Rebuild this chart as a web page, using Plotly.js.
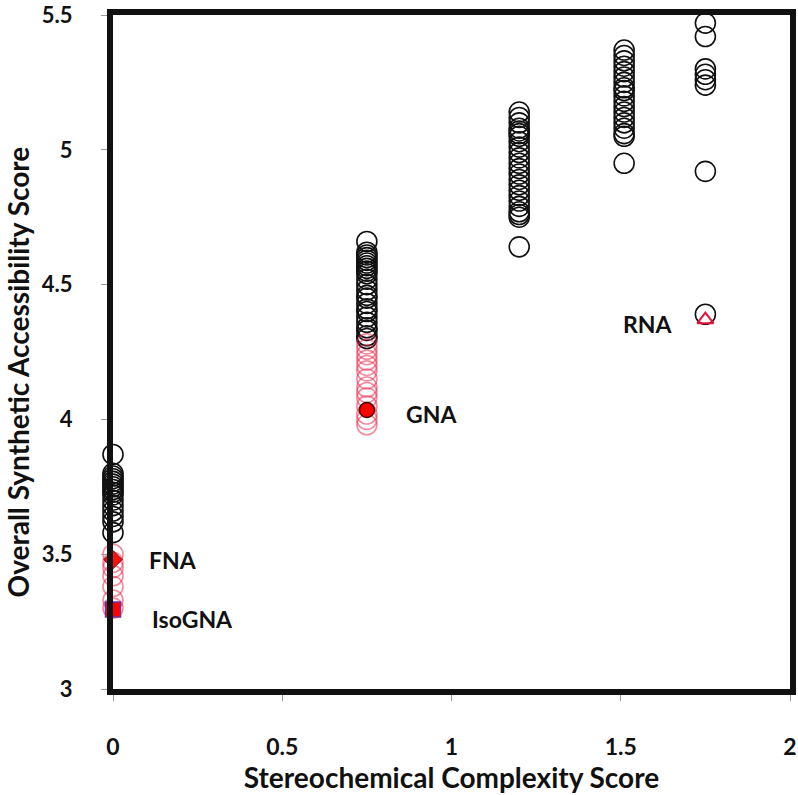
<!DOCTYPE html>
<html>
<head>
<meta charset="utf-8">
<script src="https://cdn.plot.ly/plotly-3.0.1.min.js"></script>
<style>html,body{margin:0;padding:0;background:#fff;}#chart{width:798px;height:795px;}</style>
</head>
<body>
<div id="chart"></div>
<script>
// x = 0 column
const x0Black = [3.87, 3.80, 3.79, 3.78, 3.77, 3.76, 3.75, 3.74, 3.73, 3.72, 3.70, 3.68, 3.66, 3.64, 3.62, 3.58];
const x0Red = [3.50, 3.47, 3.45, 3.42, 3.38, 3.33, 3.30];
// x = 0.75 column
const x075Black = [4.66, 4.62, 4.61, 4.60, 4.59, 4.58, 4.57, 4.56, 4.55, 4.54, 4.52, 4.50, 4.48, 4.46, 4.45, 4.43, 4.41, 4.40, 4.38, 4.36, 4.34, 4.33, 4.31, 4.30];
const x075Red = [4.28, 4.26, 4.24, 4.22, 4.20, 4.18, 4.15, 4.12, 4.10, 4.08, 4.05, 4.02, 4.00, 3.98];
// x = 1.2 column
const x12Black = [5.14, 5.12, 5.10, 5.08, 5.07, 5.06, 5.05, 5.03, 5.01, 4.99, 4.97, 4.95, 4.93, 4.91, 4.89, 4.87, 4.85, 4.83, 4.81, 4.79, 4.77, 4.76, 4.75, 4.64];
// x = 1.51 column
const x151Black = [5.37, 5.35, 5.33, 5.31, 5.29, 5.27, 5.25, 5.23, 5.22, 5.20, 5.18, 5.16, 5.14, 5.12, 5.10, 5.08, 5.06, 5.05, 4.95];
// x = 1.75 column
const x175Black = [5.47, 5.42, 5.30, 5.28, 5.26, 5.24, 4.92, 4.39];

const columnX = [0, 0.75, 1.2, 1.51, 1.75];

// highlighted compounds
const namedLabels = ['FNA', 'IsoGNA', 'GNA', 'RNA'];
const namedX = [0, 0, 0.75, 1.75];
const namedY = [3.48, 3.295, 4.035, 4.37];

const xTicks = [0, 0.5, 1, 1.5, 2];
const yTicks = [3, 3.5, 4, 4.5, 5, 5.5];

const FONT = 'Lato, "Open Sans", sans-serif';
const RED_OPEN = 'rgba(235,45,80,0.55)';

function col(xv, ys) { return ys.map(() => xv); }

const blackCircle = {symbol: 'circle-open', size: 20, color: '#111', line: {width: 1.6, color: '#111'}};
const redCircle = {symbol: 'circle-open', size: 20, color: RED_OPEN, line: {width: 1.6, color: RED_OPEN}};

const traces = [
  {x: col(columnX[0], x0Black), y: x0Black, mode: 'markers', marker: blackCircle, cliponaxis: false},
  {x: col(columnX[1], x075Black), y: x075Black, mode: 'markers', marker: blackCircle, cliponaxis: false},
  {x: col(columnX[2], x12Black), y: x12Black, mode: 'markers', marker: blackCircle, cliponaxis: false},
  {x: col(columnX[3], x151Black), y: x151Black, mode: 'markers', marker: blackCircle, cliponaxis: false},
  {x: col(columnX[4], x175Black), y: x175Black, mode: 'markers', marker: blackCircle, cliponaxis: false},
  {x: col(columnX[0], x0Red), y: x0Red, mode: 'markers', marker: redCircle, cliponaxis: false},
  {x: col(columnX[1], x075Red), y: x075Red, mode: 'markers', marker: redCircle, cliponaxis: false},
  // FNA diamond
  {x: [namedX[0]], y: [namedY[0]], mode: 'markers', cliponaxis: false,
   marker: {symbol: 'diamond', size: 14, color: '#ff1010', line: {width: 1, color: '#700'}}},
  // IsoGNA square
  {x: [namedX[1]], y: [namedY[1]], mode: 'markers', cliponaxis: false,
   marker: {symbol: 'square', size: 15, color: '#ff0000', line: {width: 1.5, color: '#7030a0'}}},
  // GNA filled circle
  {x: [namedX[2]], y: [namedY[2]], mode: 'markers', cliponaxis: false,
   marker: {symbol: 'circle', size: 15, color: '#ff0000', line: {width: 1.5, color: '#400'}}},
  // RNA triangle
  {x: [namedX[3]], y: [namedY[3]], mode: 'markers', cliponaxis: false,
   marker: {symbol: 'triangle-up-open', size: 14, color: '#e8103a', line: {width: 2, color: '#e8103a'}}}
];

const labelOffsets = [[0.1, 0], [0.11, -0.035], [0.86, -0.015], [1.5, -0.015]];
const annotations = namedLabels.map((t, i) => ({
  x: labelOffsets[i][0], y: namedY[i] + labelOffsets[i][1], xref: 'x', yref: 'y',
  text: t, showarrow: false, xanchor: 'left', yanchor: 'middle',
  font: {family: FONT, size: 23, color: '#111', weight: 700}
}));

annotations.push({
  x: -0.14, y: 0.47, xref: 'paper', yref: 'paper', xanchor: 'center', yanchor: 'middle',
  text: 'Overall Synthetic Accessibility Score', textangle: -90, showarrow: false,
  font: {family: FONT, size: 28, color: '#111', weight: 700}
});

const layout = {
  width: 798, height: 795,
  margin: {l: 113, r: 8, t: 15, b: 106},
  paper_bgcolor: '#fff', plot_bgcolor: '#fff',
  showlegend: false,
  font: {family: FONT, color: '#111'},
  xaxis: {
    range: [0, 2], tickvals: xTicks, ticktext: xTicks.map(String),
    showgrid: false, zeroline: false,
    showline: true, mirror: true, linewidth: 6, linecolor: '#111',
    ticks: 'outside', ticklen: 6, tickwidth: 1, tickcolor: '#999',
    ticklabelstandoff: 26, ticklabeloverflow: 'allow',
    tickfont: {family: FONT, size: 23, color: '#111', weight: 700},
    title: {text: 'Stereochemical Complexity Score', standoff: 6,
            font: {family: FONT, size: 28, color: '#111', weight: 700}}
  },
  yaxis: {
    range: [3, 5.5], tickvals: yTicks, ticktext: yTicks.map(String),
    showgrid: false, zeroline: false,
    showline: true, mirror: true, linewidth: 6, linecolor: '#111',
    ticks: 'outside', ticklen: 6, tickwidth: 1, tickcolor: '#999',
    ticklabelstandoff: 24, ticklabeloverflow: 'allow',
    tickfont: {family: FONT, size: 22, color: '#111', weight: 700}
  },
  annotations: annotations
};

Plotly.newPlot('chart', traces, layout, {displayModeBar: false, staticPlot: true});
</script>
</body>
</html>
